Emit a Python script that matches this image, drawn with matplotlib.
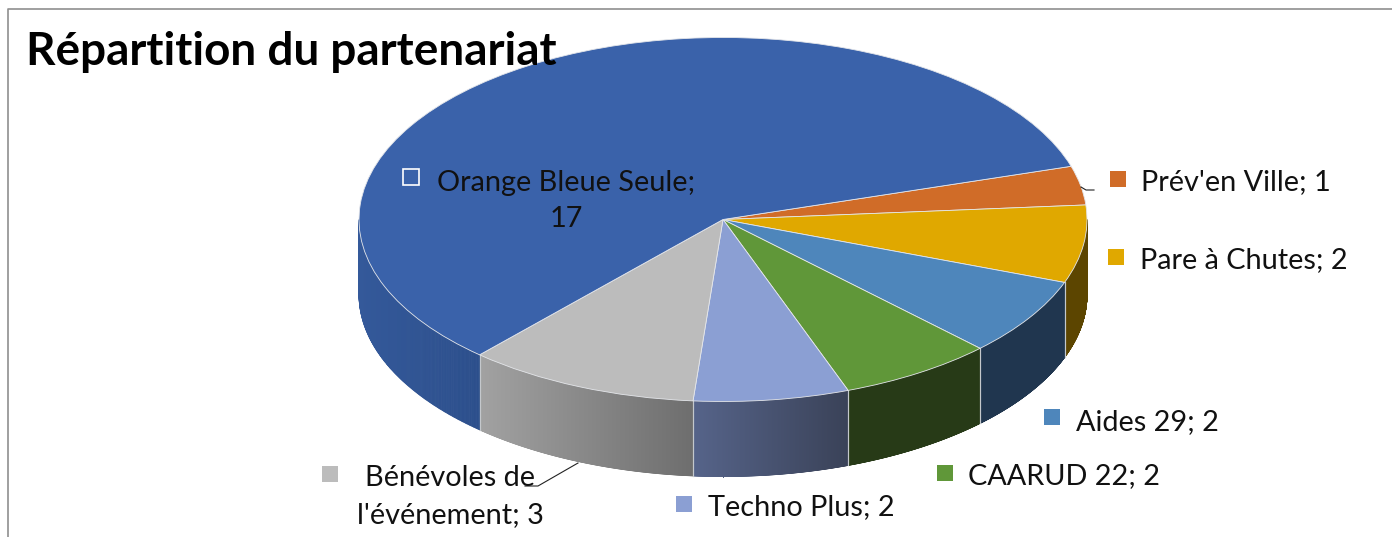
import matplotlib
matplotlib.use('Agg')
import matplotlib.pyplot as plt
import numpy as np
from matplotlib.colors import to_rgb
from matplotlib.patches import Rectangle

plt.rcParams['font.family'] = ['Lato', 'DejaVu Sans']

# data, clockwise from the top right
names = ["Prév'en Ville", 'Pare à Chutes', 'Aides 29', 'CAARUD 22', 'Techno Plus',
         "Bénévoles de\nl'événement", 'Orange Bleue Seule']
values = [1, 2, 2, 2, 2, 3, 17]
top_colors = ['#d06c28', '#e0a800', '#4e86bb', '#609739', '#8b9fd3', '#bcbcbc', '#3a62aa']
# side colours, left -> right
side_left = ['#7a3f17', '#5c4500', '#20364f', '#273a17', '#56648a', '#a2a2a2', '#34599a']
side_right = ['#7a3f17', '#5c4500', '#20364f', '#273a17', '#3a4258', '#6e6e6e', '#2c4f8c']

W, H = 1392, 537
cx, cy = 723, 219.5
rx, ry = 364, 182
depth = 75 / ry

fig = plt.figure(figsize=(W / 100, H / 100), dpi=100, facecolor='white')
ax = fig.add_axes([0, 0, 1, 1])
wedges, _ = ax.pie(values, colors=top_colors, startangle=17, counterclock=False, radius=1,
                   wedgeprops={'edgecolor': '#e4e6ea', 'linewidth': 0.6, 'zorder': 5})
ax.set_aspect('auto')
ax.set_xlim(-cx / rx, (W - cx) / rx)
ax.set_ylim((cy - H) / ry, cy / ry)
ax.axis('off')

# side wall of the pie, cut in thin strips for the gradient
for w, c1, c2 in zip(wedges, side_left, side_right):
    t = np.radians(np.linspace(w.theta1, w.theta2, 700))
    t = t[np.sin(t) <= 0]
    if len(t) < 2:
        continue
    x = np.cos(t)
    y = np.sin(t)
    c1 = np.array(to_rgb(c1))
    c2 = np.array(to_rgb(c2))
    for i in range(len(t) - 1):
        f = (min(x[i], x[i + 1]) - x.min()) / (x.max() - x.min())
        col = c1 + (c2 - c1) * f
        ax.fill([x[i], x[i + 1], x[i + 1], x[i]],
                [y[i], y[i + 1], y[i + 1] - depth, y[i] - depth],
                color=col, lw=0.6, zorder=2)
    # light line between two slices
    for k in (0, -1):
        if -0.999 < x[k] < 0.999:
            ax.plot([x[k], x[k]], [y[k], y[k] - depth], color='#c4c8cc', lw=0.8, zorder=3)

# labels, in pixel coordinates
ov = fig.add_axes([0, 0, 1, 1], facecolor='none')
ov.set_xlim(0, W)
ov.set_ylim(H, 0)
ov.axis('off')

ov.plot([7.5, 7.5, W], [H, 8.5, 8.5], color='#8f8f8f', lw=1.2)
ov.text(26, 65, 'Répartition du partenariat', fontsize=33, fontweight='bold', color='black')

label_pos = [(1141, 190, 'left'), (1140, 268, 'left'), (1076, 430, 'left'), (968, 484, 'left'),
             (708, 515, 'left'), (450, 523, 'center'), (566, 227, 'center')]
key_pos = [(1110, 171), (1108, 249), (1044, 409), (937, 465), (676, 496), (322, 466), (403, 169)]

for i, name in enumerate(names):
    lx, ly, ha = label_pos[i]
    if name.startswith('Orange'):
        txt = name + ';\n' + str(values[i])
    else:
        txt = name + '; ' + str(values[i])
    ov.text(lx, ly, txt, fontsize=20.8, color='#111111', ha=ha, va='baseline', linespacing=1.5)
    kx, ky = key_pos[i]
    if name.startswith('Orange'):
        ov.add_patch(Rectangle((kx, ky), 16, 16, facecolor='none', edgecolor='white', lw=1.2))
    else:
        ov.add_patch(Rectangle((kx, ky), 16, 16, facecolor=top_colors[i], edgecolor='none'))

# leader lines
ov.plot([1081, 1086, 1094], [187, 190, 190], color='#222222', lw=0.8)
ov.plot([578, 538, 525], [463, 486, 486], color='#222222', lw=0.8)

fig.savefig('out.png', dpi=100)
